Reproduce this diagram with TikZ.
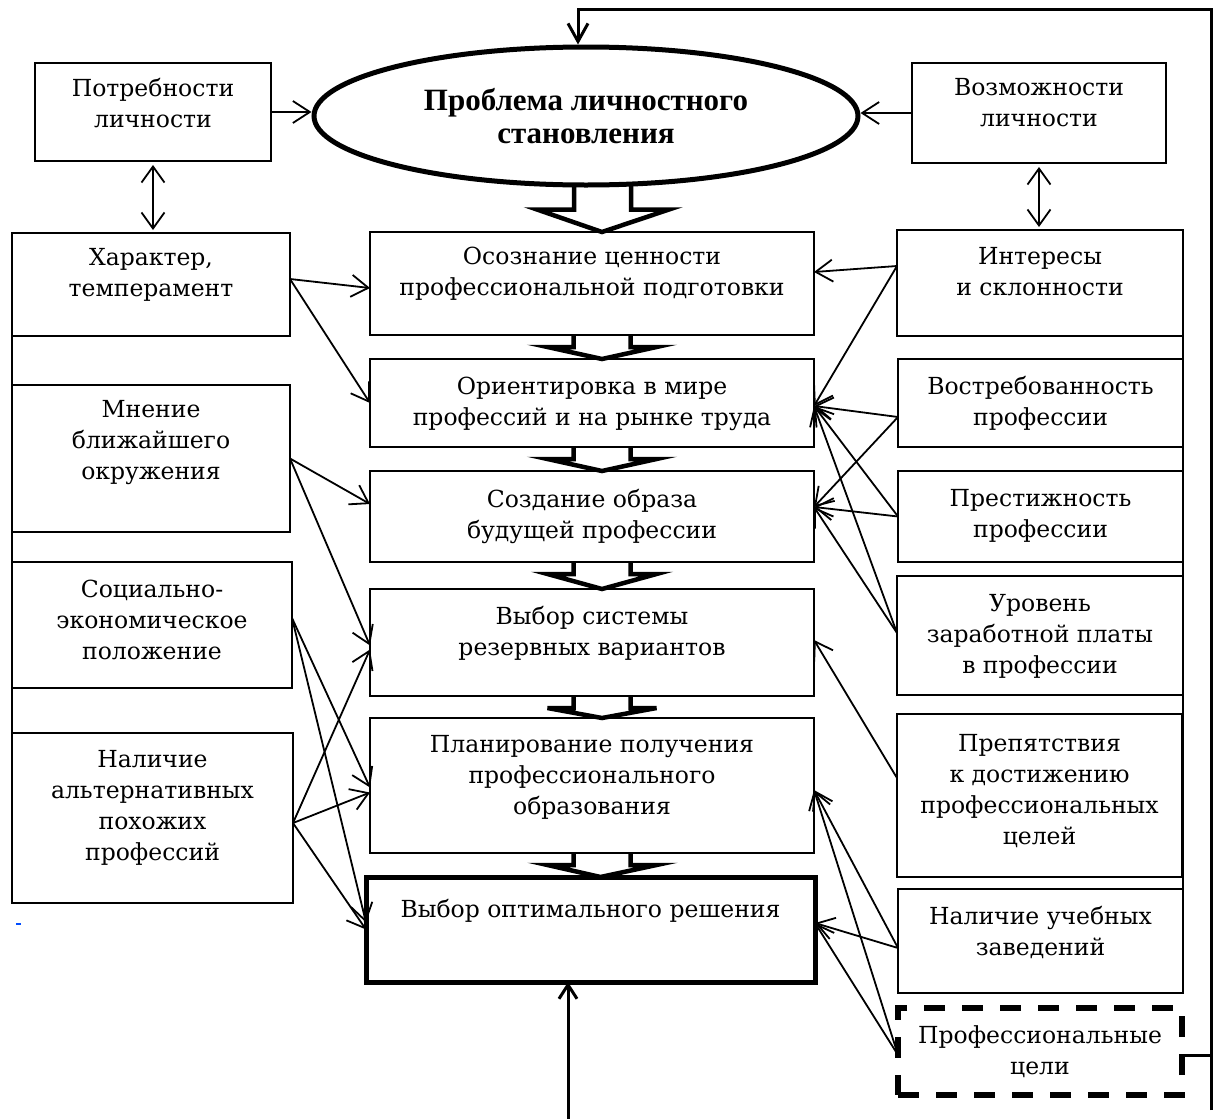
\documentclass[tikz,border=0pt]{standalone}
\usepackage{fontspec}
\setmainfont{DejaVu Serif}
\newfontfamily\ellfont{Liberation Serif}
\usetikzlibrary{arrows.meta,shapes.geometric,calc}
\newcommand{\tstrut}{\rule{0pt}{22pt}}
\tikzset{
  rbox/.style={draw=black, line width=1.3pt, rectangle, inner sep=0pt, outer sep=0pt, anchor=north west},
  thickbox/.style={rbox, line width=5pt},
  dashbox/.style={rbox, line width=5.5pt, dash pattern=on 21pt off 17pt},
  txt/.style={inner sep=0pt, align=center, anchor=north, font=\fontsize{23.5}{31}\selectfont, execute at begin node=\tstrut},
  conn/.style={line width=1.8pt, -{Straight Barb[length=17pt,width=22pt]}},
  dconn/.style={line width=1.8pt, {Straight Barb[length=16pt,width=23pt]}-{Straight Barb[length=16pt,width=23pt]}},
  fbline/.style={line width=3pt, line join=miter},
  blk/.style={line width=4.5pt, line join=miter},
}
\newcommand{\blkarrow}[2]{%
  \draw[blk] ($(#1.south)+(-18.5,0)$) -- ($(#1.south)+(-18.5,12)$) -- ($(#1.south)+(-44.5,12)$)
    -- ($(#2.north)+(10,0)$) -- ($(#1.south)+(64.5,12)$) -- ($(#1.south)+(38.5,12)$) -- ($(#1.south)+(38.5,0)$);
}
\begin{document}
\begin{tikzpicture}[x=1pt,y=-1pt]
\useasboundingbox (0,0) rectangle (1213,1119);

% ellipse
\node[ellipse, draw, line width=5pt, minimum width=544pt, minimum height=138pt, inner sep=0pt,
      align=center, font=\ellfont\bfseries\fontsize{31}{33}\selectfont] (ell) at (586,116)
      {Проблема личностного\\становления};

% left column
\node[rbox, minimum width=236pt, minimum height=98pt] (potr) at (35,63) {};
\node[rbox, minimum width=278pt, minimum height=103pt] (har) at (12,233) {};
\node[rbox, minimum width=278pt, minimum height=147pt] (mnen) at (12,385) {};
\node[rbox, minimum width=280pt, minimum height=126pt] (soc) at (12,562) {};
\node[rbox, minimum width=281pt, minimum height=170pt] (nal) at (12,733) {};

% center column
\node[rbox, minimum width=444pt, minimum height=103pt] (osoz) at (370,232) {};
\node[rbox, minimum width=444pt, minimum height=88pt] (orient) at (370,359) {};
\node[rbox, minimum width=444pt, minimum height=91pt] (sozd) at (370,471) {};
\node[rbox, minimum width=444pt, minimum height=107pt] (vybs) at (370,589) {};
\node[rbox, minimum width=444pt, minimum height=135pt] (plan) at (370,718) {};
\node[thickbox, minimum width=449pt, minimum height=105pt] (vybo) at (366,877) {};

% right column
\node[rbox, minimum width=254pt, minimum height=100pt] (voz) at (912,63) {};
\node[rbox, minimum width=286pt, minimum height=106pt] (inter) at (897,230) {};
\node[rbox, minimum width=285pt, minimum height=88pt] (vostr) at (898,359) {};
\node[rbox, minimum width=285pt, minimum height=91pt] (prest) at (898,471) {};
\node[rbox, minimum width=286pt, minimum height=119pt] (urov) at (897,576) {};
\node[rbox, minimum width=285pt, minimum height=163pt] (prep) at (897,714) {};
\node[rbox, minimum width=285pt, minimum height=104pt] (nalu) at (898,889) {};
\node[dashbox, minimum width=284pt, minimum height=87pt] (prof) at (898,1008) {};

% texts
\node[txt] (potrT) at ($(potr.north)+(0,15)$) {Потребности\\личности};
\node[txt] (harT) at ($(har.north)+(0,15)$) {Характер,\\темперамент};
\node[txt] (mnenT) at ($(mnen.north)+(0,15)$) {Мнение\\ближайшего\\окружения};
\node[txt] (socT) at ($(soc.north)+(0,18)$) {Социально-\\экономическое\\положение};
\node[txt] (nalT) at ($(nal.north)+(0,17)$) {Наличие\\альтернативных\\похожих\\профессий};
\node[txt] (osozT) at ($(osoz.north)+(0,15)$) {Осознание ценности\\профессиональной подготовки};
\node[txt] (orientT) at ($(orient.north)+(0,18)$) {Ориентировка в мире\\профессий и на рынке труда};
\node[txt] (sozdT) at ($(sozd.north)+(0,18)$) {Создание образа\\будущей профессии};
\node[txt] (vybsT) at ($(vybs.north)+(0,17)$) {Выбор системы\\резервных вариантов};
\node[txt] (planT) at ($(plan.north)+(0,17)$) {Планирование получения\\профессионального\\образования};
\node[txt] (vyboT) at ($(vybo.north)+(0,18)$) {Выбор оптимального решения};
\node[txt] (vozT) at ($(voz.north)+(0,15)$) {Возможности\\личности};
\node[txt] (interT) at ($(inter.north)+(0,17)$) {Интересы\\и склонности};
\node[txt] (vostrT) at ($(vostr.north)+(0,17)$) {Востребованность\\профессии};
\node[txt] (prestT) at ($(prest.north)+(0,18)$) {Престижность\\профессии};
\node[txt] (urovT) at ($(urov.north)+(0,18)$) {Уровень\\заработной платы\\в профессии};
\node[txt] (prepT) at ($(prep.north)+(0,20)$) {Препятствия\\к достижению\\профессиональных\\целей};
\node[txt] (naluT) at ($(nalu.north)+(0,17)$) {Наличие учебных\\заведений};
\node[txt] (profT) at ($(prof.north)+(0,17)$) {Профессиональные\\цели};

% column side lines
\draw[line width=1.4pt] (har.south west) -- (nal.north west);
\draw[line width=1.6pt] (inter.south east) -- (nalu.south east);

% block arrows
\draw[blk] ($(ell.south)+(-12,-4)$) -- ($(ell.south)+(-12,22)$) -- ($(ell.south)+(-49,22)$)
  -- ($(osoz.north)+(10,0)$) -- ($(ell.south)+(83,22)$) -- ($(ell.south)+(45,22)$) -- ($(ell.south)+(45,-3)$);
\blkarrow{osoz}{orient}
\blkarrow{orient}{sozd}
\blkarrow{sozd}{vybs}
\blkarrow{vybs}{plan}
\blkarrow{plan}{vybo}

% top connectors
\draw[conn] (potr.east) -- (potr.east -| ell.west);
\draw[conn] (voz.west) -- (voz.west -| ell.east);
\draw[dconn, shorten <=4pt, shorten >=3pt] (potr.south) -- (potr.south |- har.north);
\draw[dconn, shorten <=4pt, shorten >=3pt] (voz.south) -- (voz.south |- inter.north);

% left connectors
\draw[conn] ([yshift=5.5pt]har.east) -- ([yshift=-4.5pt]osoz.west);
\draw[conn] ([yshift=5.5pt]har.east) -- (orient.west);
\draw[conn] (mnen.east) -- ([yshift=12.5pt]sozd.west);
\draw[conn] (mnen.east) -- ([yshift=-3pt]vybs.west);
\draw[conn] ([yshift=7pt]soc.east) -- ([yshift=-2pt]plan.west);
\draw[conn] ([yshift=7pt]soc.east) -- ([yshift=7pt]vybo.west);
\draw[conn] ([yshift=-5pt]nal.east) -- ([yshift=-7pt]vybs.west);
\draw[conn] ([yshift=-5pt]nal.east) -- ([yshift=-7pt]plan.west);
\draw[conn] ([yshift=-5pt]nal.east) -- (vybo.west);

% right connectors
\draw[conn] ([yshift=17pt]inter.west) -- ([yshift=11.5pt]osoz.east);
\draw[conn] ([yshift=17pt]inter.west) -- ([yshift=-3pt]orient.east);
\draw[conn] ([yshift=-14pt]vostr.west) -- ([yshift=-3pt]orient.east);
\draw[conn] ([yshift=-14pt]vostr.west) -- ([yshift=9.5pt]sozd.east);
\draw[conn] (prest.west) -- ([yshift=-3pt]orient.east);
\draw[conn] (prest.west) -- ([yshift=9.5pt]sozd.east);
\draw[conn] ([yshift=2.5pt]urov.west) -- ([yshift=-3pt]orient.east);
\draw[conn] ([yshift=2.5pt]urov.west) -- ([yshift=9.5pt]sozd.east);
\draw[conn] ([yshift=17.5pt]prep.west) -- ([yshift=2.5pt]vybs.east);
\draw[conn] ([yshift=-7pt]nalu.west) -- ([yshift=-4.5pt]plan.east);
\draw[conn] ([yshift=-7pt]nalu.west) -- ([yshift=6.5pt]vybo.east);
\draw[conn] ([yshift=-3.5pt]prof.west) -- ([yshift=-4.5pt]plan.east);
\draw[conn] ([yshift=-3.5pt]prof.west) -- ([yshift=6.5pt]vybo.east);

% feedback loop
\coordinate (fbtop) at (1211,9);
\coordinate (fbbot) at (1211,1110);
\draw[fbline, -{Straight Barb[length=18pt,width=20pt]}] (fbbot) -- (fbtop) -| ([xshift=-8pt]ell.north);
\draw[fbline] ([yshift=-3.5pt]prof.east) -- ([yshift=-3.5pt]prof.east -| fbtop);

% bottom input
\coordinate (botin) at (568,1119);
\draw[fbline, -{Straight Barb[length=14pt,width=18pt]}] (botin) -- (botin |- vybo.south);

% stray mark
\draw[blue!70!cyan, line width=1.2pt] (16,924) -- (21,924);
\end{tikzpicture}
\end{document}
